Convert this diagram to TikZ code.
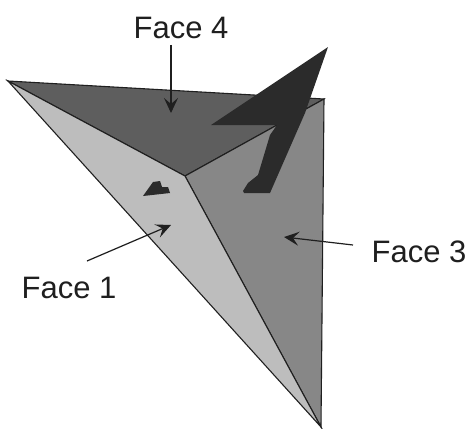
\documentclass[tikz,border=0pt]{standalone}
\usepackage{fontspec}
\setmainfont{Liberation Sans}
\usetikzlibrary{arrows.meta}
\definecolor{faceone}{gray}{0.74}
\definecolor{facethree}{gray}{0.53}
\definecolor{facefour}{gray}{0.37}
\definecolor{darkpart}{gray}{0.17}
\definecolor{edgeink}{gray}{0.12}
\tikzset{
  facepoly/.style={draw=edgeink,line width=1.1pt,line join=miter},
  darkpoly/.style={fill=darkpart,draw=none},
  lbl/.style={font=\fontsize{31}{33}\selectfont,text=black!88,inner sep=0pt,anchor=center},
  callout/.style={draw=edgeink,line width=1.2pt,-{Stealth[length=15pt,width=14pt,inset=6pt]},shorten >=0pt}
}
\begin{document}
\begin{tikzpicture}[x=1pt,y=-1pt]
\useasboundingbox (0,0) rectangle (470,428);
\coordinate (A) at (8,81);
\coordinate (T) at (324,99);
\coordinate (B) at (321,427);
\coordinate (C) at (185,176);
\filldraw[facepoly,fill=facefour] (A) -- (T) -- (C) -- cycle;
\filldraw[facepoly,fill=facethree] (C) -- (T) -- (B) -- cycle;
\filldraw[facepoly,fill=faceone] (A) -- (C) -- (B) -- cycle;
\fill[darkpoly] (328,47) -- (211,125) -- (277,125) -- (270,135) -- (258,175) -- (248,183) -- (243,191) -- (244,193) -- (270,193) -- (305,113) -- cycle;
\fill[darkpoly] (143,196) -- (153,182) -- (160,181) -- (162,187) -- (168,187) -- (170,193) -- cycle;
\node[lbl] (f4) at (181,28) {Face 4};
\node[lbl] (f1) at (69,288) {Face 1};
\node[lbl] (f3) at (419,252) {Face 3};
\coordinate (p4) at (171,113);
\coordinate (p1) at (171,225);
\coordinate (p3) at (284,237);
\coordinate (s4) at (171,45);
\coordinate (s1) at (87,261);
\coordinate (s3) at (353,245);
\draw[callout] (s4) -- (p4);
\draw[callout] (s1) -- (p1);
\draw[callout] (s3) -- (p3);
\end{tikzpicture}
\end{document}
